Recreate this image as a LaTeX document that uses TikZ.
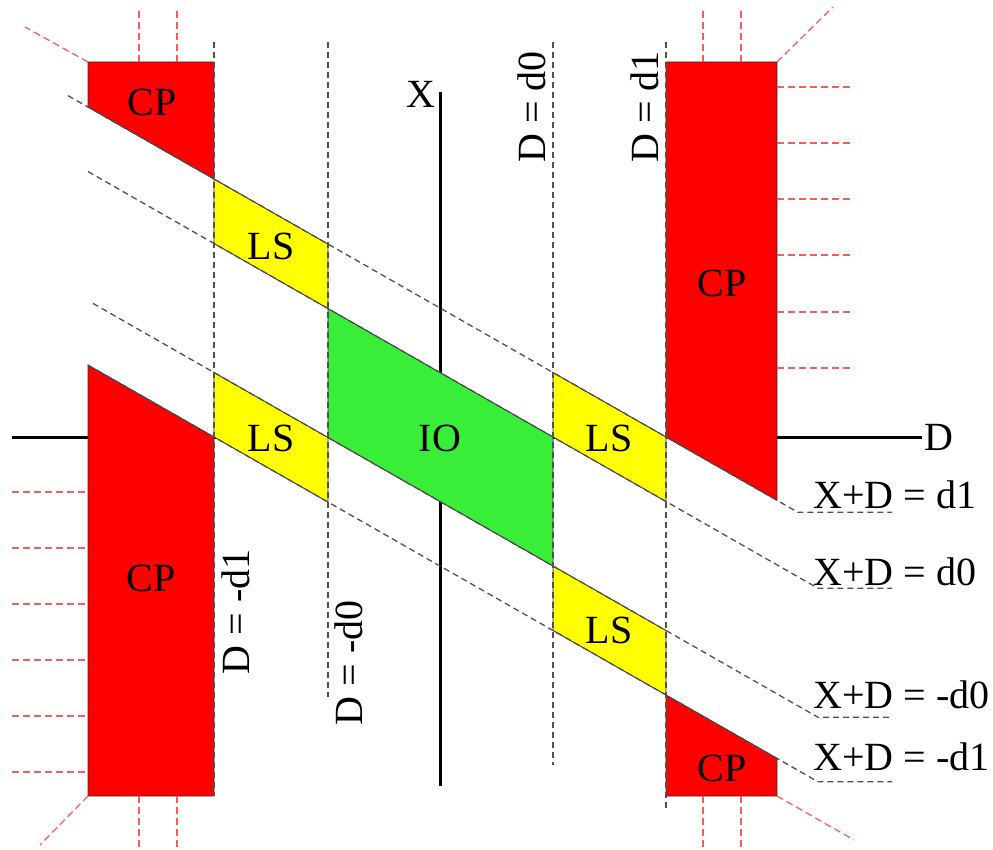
\documentclass[tikz,border=0pt]{standalone}
\usepackage{fontspec}
\setmainfont{Liberation Serif}
\usetikzlibrary{calc}
\definecolor{cpred}{RGB}{255,0,0}
\definecolor{lsyellow}{RGB}{255,255,0}
\definecolor{iogreen}{RGB}{56,238,56}
\definecolor{guide}{RGB}{80,80,80}
\definecolor{hatch}{RGB}{255,90,90}
\newcommand{\linept}[3]{\coordinate (#1) at ({#2},{437-64.5*(#3)+0.5708*((#2)-440)});}
\begin{document}
\begin{tikzpicture}[x=1pt,y=-1pt,
  region/.style={draw=black!80, line width=0.9pt},
  guideline/.style={draw=guide, line width=1.3pt, dash pattern=on 6pt off 4pt},
  hatchline/.style={draw=hatch, line width=1.3pt, dash pattern=on 7pt off 4pt},
  axisline/.style={draw=black, line width=3pt},
  lbl/.style={font=\fontsize{40}{48}\selectfont, inner sep=0pt}]
\useasboundingbox (0,0) rectangle (993,850);
% points on the lines X+D = const
\linept{a2}{88}{2}\linept{b2}{214}{2}\linept{c2}{328}{2}\linept{d2}{553}{2}\linept{e2}{666}{2}\linept{f2}{777}{2}
\linept{a1}{88}{1}\linept{b1}{214}{1}\linept{c1}{328}{1}\linept{d1}{553}{1}\linept{e1}{666}{1}
\linept{bm1}{214}{-1}\linept{cm1}{328}{-1}\linept{dm1}{553}{-1}\linept{em1}{666}{-1}
\linept{am2}{88}{-2}\linept{bm2}{214}{-2}\linept{cm2}{328}{-2}\linept{dm2}{553}{-2}\linept{em2}{666}{-2}\linept{fm2}{777}{-2}
\linept{s2}{68}{2}\linept{sm1}{93}{-1}
\linept{t2}{798}{2}\linept{t1}{818}{1}\linept{tm1}{818}{-1}\linept{tm2}{818}{-2}
% axes
\coordinate (xlo) at (440,786);
\coordinate (xhi) at (440,92);
\coordinate (dlo) at (12,437);
\coordinate (dhi) at (922,437);
\draw[axisline] (xlo) -- (xhi);
\draw[axisline] (dlo) -- (dhi);
\node[lbl] (xlab) at (421,94) {X};
\node[lbl, anchor=west] (dlab) at (924,437) {D};
% regions
\path[region, fill=cpred] (88,62) -- (214,62) -- (b2) -- (a2) -- cycle;
\path[region, fill=lsyellow] (b2) -- (c2) -- (c1) -- (b1) -- cycle;
\path[region, fill=iogreen] (c1) -- (d1) -- (dm1) -- (cm1) -- cycle;
\path[region, fill=lsyellow] (bm1) -- (cm1) -- (cm2) -- (bm2) -- cycle;
\path[region, fill=cpred] (am2) -- (bm2) -- (214,796) -- (88,796) -- cycle;
\path[region, fill=lsyellow] (d2) -- (e2) -- (e1) -- (d1) -- cycle;
\path[region, fill=cpred] (666,62) -- (777,62) -- (f2) -- (e2) -- cycle;
\path[region, fill=lsyellow] (dm1) -- (em1) -- (em2) -- (dm2) -- cycle;
\path[region, fill=cpred] (em2) -- (fm2) -- (777,796) -- (666,796) -- cycle;
% red hatch lines (continuation of CP)
\draw[hatchline] (88,62) -- (25,27);
\draw[hatchline] (139,62) -- (139,10);
\draw[hatchline] (177,62) -- (177,10);
\draw[hatchline] (777,62) -- (833,7);
\draw[hatchline] (703,62) -- (703,10);
\draw[hatchline] (741,62) -- (741,10);
\foreach \yy in {87,143,199,255,312,368} {\draw[hatchline] (777,\yy) -- (854,\yy);}
\foreach \yy in {492,548,604,660,716,772} {\draw[hatchline] (12,\yy) -- (88,\yy);}
\draw[hatchline] (88,796) -- (40,845);
\draw[hatchline] (139,796) -- (139,848);
\draw[hatchline] (177,796) -- (177,848);
\draw[hatchline] (703,796) -- (703,848);
\draw[hatchline] (741,796) -- (741,848);
\draw[hatchline] (777,796) -- (854,840);
% grey guide lines
\draw[guideline] (214,42) -- (214,796);
\draw[guideline] (328,42) -- (328,697);
\draw[guideline] (553,42) -- (553,765);
\draw[guideline] (666,42) -- (666,808);
\draw[guideline] (s2) -- (t2) -- ($(t2)+(94,0)$);
\draw[guideline] (a1) -- (t1) -- ($(t1)+(74,0)$);
\draw[guideline] (sm1) -- (tm1) -- ($(tm1)+(74,0)$);
\draw[guideline] (am2) -- (tm2) -- ($(tm2)+(74,0)$);
% region labels
\node[lbl] (cp1) at (152,102) {CP};
\node[lbl] (cp2) at (722,283) {CP};
\node[lbl] (cp3) at (151,578) {CP};
\node[lbl] (cp4) at (722,768) {CP};
\node[lbl] (ls1) at (271,246) {LS};
\node[lbl] (ls2) at (271,438) {LS};
\node[lbl] (ls3) at (609,438) {LS};
\node[lbl] (ls4) at (609,630) {LS};
\node[lbl] (io) at (440,438) {IO};
% line labels
\node[lbl, rotate=90] (vm1) at (236,612) {D = -d1};
\node[lbl, rotate=90] (vm0) at (349,663) {D = -d0};
\node[lbl, rotate=90] (v0) at (532,107) {D = d0};
\node[lbl, rotate=90] (v1) at (645,107) {D = d1};
\node[lbl, anchor=base west] (l1) at (813,508) {X+D = d1};
\node[lbl, anchor=base west] (l0) at (813,585) {X+D = d0};
\node[lbl, anchor=base west] (lm0) at (813,708) {X+D = -d0};
\node[lbl, anchor=base west] (lm1) at (813,770) {X+D = -d1};
\end{tikzpicture}
\end{document}
